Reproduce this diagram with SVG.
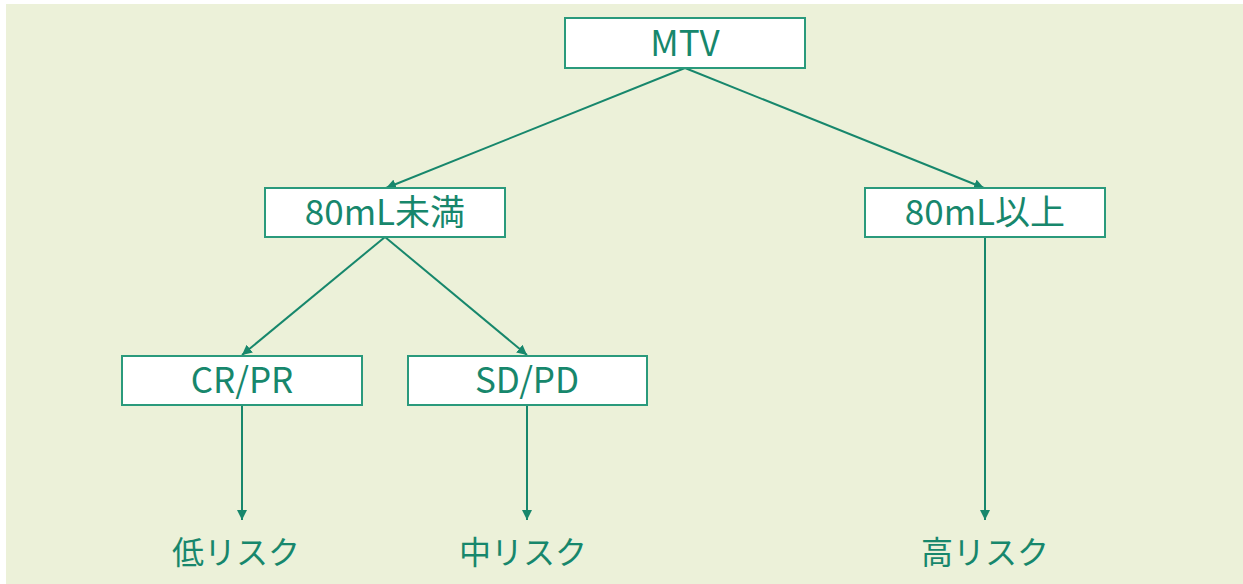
<svg xmlns="http://www.w3.org/2000/svg" width="1243" height="584" viewBox="0 0 1243 584">
<defs>
<marker id="ah" viewBox="0 0 10 10" refX="10" refY="5" markerWidth="10" markerHeight="10" markerUnits="userSpaceOnUse" orient="auto">
<path d="M0,0 L10,5 L0,10 Z" fill="#17876c"/>
</marker>
<style>
.box{fill:#ffffff;stroke:#2a9a7c;stroke-width:2}
.t{font-family:"Noto Sans CJK JP","Noto Sans",sans-serif;font-size:35px;fill:#17876c;text-anchor:middle}
.b{font-size:32px}
.c{stroke:#17876c;stroke-width:2;fill:none;marker-end:url(#ah)}
</style>
</defs>
<rect width="1243" height="584" fill="#ffffff"/>
<rect x="6" y="4" width="1237" height="580" fill="#ecf1d9"/>
<g id="connectors">
<line class="c" x1="685" y1="68" x2="386" y2="188"/>
<line class="c" x1="685" y1="68" x2="984" y2="188"/>
<line class="c" x1="385" y1="237" x2="242" y2="355"/>
<line class="c" x1="385" y1="237" x2="527" y2="355"/>
<line class="c" x1="242" y1="405" x2="242" y2="520"/>
<line class="c" x1="527" y1="405" x2="527" y2="520"/>
<line class="c" x1="985" y1="237" x2="985" y2="520"/>
</g>
<g id="mtv"><rect class="box" x="565" y="18" width="240" height="50"/><text class="t" x="685" y="56">MTV</text></g>
<g id="lt80"><rect class="box" x="265" y="188" width="240" height="49"/><text class="t" x="385" y="225">80mL未満</text></g>
<g id="ge80"><rect class="box" x="865" y="188" width="240" height="49"/><text class="t" x="985" y="225">80mL以上</text></g>
<g id="crpr"><rect class="box" x="122" y="356" width="240" height="49"/><text class="t" x="242" y="393">CR/PR</text></g>
<g id="sdpd"><rect class="box" x="408" y="356" width="239" height="49"/><text class="t" x="527" y="393">SD/PD</text></g>
<g id="low"><text class="t b" x="236" y="564">低リスク</text></g>
<g id="mid"><text class="t b" x="523" y="564">中リスク</text></g>
<g id="high"><text class="t b" x="985" y="564">高リスク</text></g>
</svg>
